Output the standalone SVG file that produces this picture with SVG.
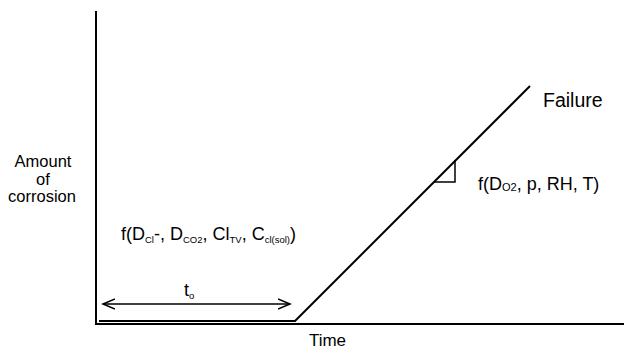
<svg xmlns="http://www.w3.org/2000/svg" width="624" height="351" viewBox="0 0 624 351">
  <style>
    .t { font-family: "Liberation Sans", Arial, sans-serif; font-size: 18px; fill: #000; }
    .y { font-size: 16.5px; }
    .s { font-size: 9.5px; }
    .ln { stroke: #000; fill: none; stroke-width: 2; }
    .ar { stroke: #000; fill: none; stroke-width: 1.5; }
  </style>
  <defs>
    <marker id="open" markerWidth="14" markerHeight="12" refX="12" refY="6" orient="auto-start-reverse" markerUnits="userSpaceOnUse">
      <path d="M0,1 L12,6 L0,11" fill="none" stroke="#000" stroke-width="1.5"/>
    </marker>
  </defs>
  <rect width="624" height="351" fill="#fff"/>
  <g id="axes">
    <line class="ln" x1="96" y1="11" x2="96" y2="325"/>
    <line class="ln" x1="95" y1="324" x2="624" y2="324"/>
  </g>
  <g id="connectors">
    <polyline id="curve" class="ln" points="99,321 295,321 530,86"/>
    <line id="t0-arrow" class="ar" x1="103" y1="304" x2="290" y2="304" marker-start="url(#open)" marker-end="url(#open)"/>
    <polyline id="slope-triangle" class="ar" points="434,182 455,182 455,160"/>
  </g>
  <g id="y-label">
    <text class="t y" x="43" y="167" text-anchor="middle">Amount</text>
    <text class="t y" x="43" y="184.5" text-anchor="middle">of</text>
    <text class="t y" x="42" y="202" text-anchor="middle">corrosion</text>
  </g>
  <g id="x-label">
    <text class="t" x="327.5" y="346" text-anchor="middle" style="font-size:17px">Time</text>
  </g>
  <g id="failure">
    <text class="t" x="543" y="107" style="font-size:19.5px">Failure</text>
  </g>
  <g id="initiation">
    <text class="t" x="121" y="240">f(D<tspan class="s" dy="3">Cl</tspan><tspan dy="-3">-, D</tspan><tspan class="s" dy="3">CO2</tspan><tspan dy="-3">, Cl</tspan><tspan class="s" dy="3">TV</tspan><tspan dy="-3">, C</tspan><tspan class="s" dy="3">cl(sol)</tspan><tspan dy="-3">)</tspan></text>
  </g>
  <g id="propagation">
    <text class="t" x="478" y="190">f(D<tspan style="font-size:11px" dy="1">O2</tspan><tspan dy="-1">, p, RH, T)</tspan></text>
  </g>
  <g id="t0">
    <text class="t" x="184" y="296">t<tspan class="s" dy="3">o</tspan></text>
  </g>
</svg>
